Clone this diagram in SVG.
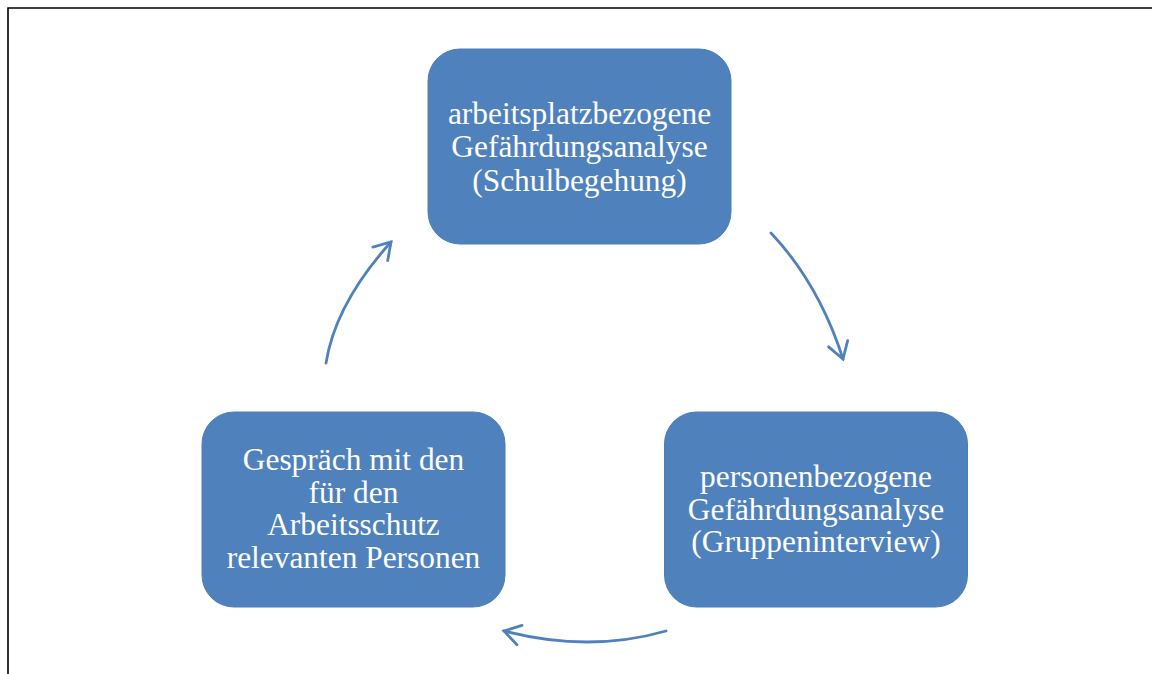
<svg xmlns="http://www.w3.org/2000/svg" width="1152" height="674" viewBox="0 0 1152 674">
<style>
.box{fill:#4F81BD;stroke:#4A7EBB;stroke-width:1}
.lbl{font-family:"Liberation Serif","Times New Roman",serif;font-size:31.4px;fill:#FFFFFF;text-anchor:middle}
.conn{fill:none;stroke:#4F81BD;stroke-width:2.8;stroke-linecap:round}
</style>
<defs>
<marker id="arr" markerUnits="userSpaceOnUse" viewBox="-20 -14 24 28" refX="0" refY="0" markerWidth="24" markerHeight="28" orient="auto" overflow="visible">
<path d="M-16,-10 L0,0 L-16,10" fill="none" stroke="#4F81BD" stroke-width="2.8" stroke-linecap="round" stroke-linejoin="miter"/>
</marker>
</defs>
<rect width="1152" height="674" fill="#FFFFFF"/>
<path d="M8,674 V8 H1152" fill="none" stroke="#000000" stroke-width="1.6"/>
<g id="connectors">
<path class="conn" d="M771,233 Q819,284 843,359" marker-end="url(#arr)"/>
<path class="conn" d="M666,631 Q589,653 504,631" marker-end="url(#arr)"/>
<path class="conn" d="M326,363 Q335.5,303.5 391,242" marker-end="url(#arr)"/>
</g>
<g id="node-top">
<rect class="box" x="428" y="49" width="303" height="195" rx="32" ry="32"/>
<text class="lbl" x="579.5" y="123.5">arbeitsplatzbezogene</text>
<text class="lbl" x="579.5" y="157">Gefährdungsanalyse</text>
<text class="lbl" x="579.5" y="190.5">(Schulbegehung)</text>
</g>
<g id="node-right">
<rect class="box" x="664.5" y="412" width="303" height="195" rx="32" ry="32"/>
<text class="lbl" x="816" y="487">personenbezogene</text>
<text class="lbl" x="816" y="519.5">Gefährdungsanalyse</text>
<text class="lbl" x="816" y="552">(Gruppeninterview)</text>
</g>
<g id="node-left">
<rect class="box" x="202" y="412" width="303" height="195" rx="32" ry="32"/>
<text class="lbl" x="353.5" y="470">Gespräch mit den</text>
<text class="lbl" x="353.5" y="502.7">für den</text>
<text class="lbl" x="353.5" y="535.4">Arbeitsschutz</text>
<text class="lbl" x="353.5" y="568.1">relevanten Personen</text>
</g>
</svg>
